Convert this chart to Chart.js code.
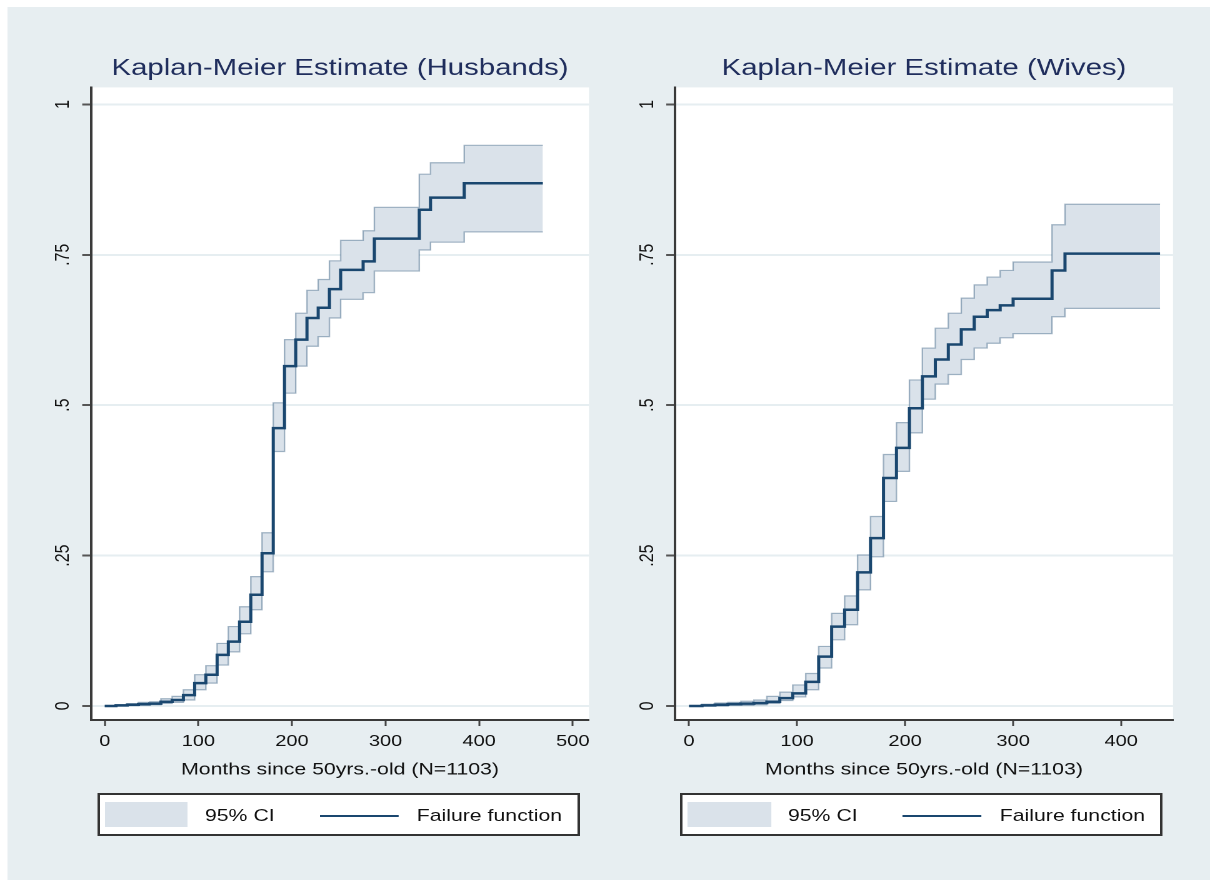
<!DOCTYPE html>
<html>
<head>
<meta charset="utf-8">
<script src="https://cdn.jsdelivr.net/npm/chart.js@4.4.1/dist/chart.umd.min.js"></script>
<style>
  html, body { margin: 0; padding: 0; background: #fff; }
  /* the reference picture is stretched sideways, so the whole figure is too */
  #stretch { position: absolute; left: 0; top: 0; width: 973.6px; height: 886px; transform: scaleX(1.25); transform-origin: 0 0; }
  #panel { position: absolute; left: 5.6px; top: 7px; width: 962.4px; height: 873px; background: #e7eef1; }
  canvas { position: absolute; top: 0; }
  .legend { position: absolute; top: 793px; width: 386.4px; height: 43px; box-sizing: border-box;
            border: 2px solid #333; background: #fff; font-family: 'Liberation Sans', Arial, Helvetica, sans-serif;
            font-size: 17px; color: #111; }
  .legend .sw { position: absolute; left: 4.4px; top: 7px; width: 66.4px; height: 25px; background: #dae2ea; }
  .legend .t1 { position: absolute; left: 84.4px; top: 0; line-height: 42px; }
  .legend .ln { position: absolute; left: 176.4px; top: 20.3px; width: 62.6px; height: 2px; background: #1a476f; }
  .legend .t2 { position: absolute; left: 253.8px; top: 0; line-height: 42px; }
</style>
</head>
<body>
<div id="stretch">
  <div id="panel"></div>
  <canvas id="husbands" width="500" height="800" style="left:0px"></canvas>
  <canvas id="wives" width="483" height="800" style="left:490px"></canvas>
  <div class="legend" style="left:77.6px"><div class="sw"></div><span class="t1">95% CI</span><div class="ln"></div><span class="t2">Failure function</span></div>
  <div class="legend" style="left:544px"><div class="sw"></div><span class="t1">95% CI</span><div class="ln"></div><span class="t2">Failure function</span></div>
</div>
<script>
const FONT = "'Liberation Sans', Arial, Helvetica, sans-serif";

// husbands: months, failure estimate, lower and upper 95% CI
const monthsH = [0, 12, 24, 36, 48, 60, 72, 84, 96, 108, 120, 132, 144, 156, 168, 180, 192, 204, 216, 228, 240, 252, 276, 288, 336, 348, 384, 468];
const failH   = [0, 0.001, 0.002, 0.003, 0.004, 0.007, 0.010, 0.018, 0.038, 0.052, 0.085, 0.107, 0.140, 0.185, 0.254, 0.462, 0.565, 0.609, 0.645, 0.662, 0.693, 0.725, 0.739, 0.777, 0.825, 0.845, 0.869, 0.869];
const loH     = [0, 0, 0.0005, 0.001, 0.002, 0.004, 0.006, 0.010, 0.027, 0.038, 0.068, 0.090, 0.120, 0.160, 0.223, 0.423, 0.520, 0.565, 0.598, 0.614, 0.645, 0.676, 0.687, 0.723, 0.758, 0.771, 0.788, 0.788];
const hiH     = [0, 0.002, 0.004, 0.006, 0.007, 0.012, 0.016, 0.027, 0.052, 0.067, 0.104, 0.132, 0.165, 0.215, 0.288, 0.504, 0.609, 0.653, 0.691, 0.709, 0.740, 0.774, 0.790, 0.829, 0.884, 0.903, 0.932, 0.932];

// wives
const monthsW = [0, 12, 24, 36, 48, 60, 72, 84, 96, 108, 120, 132, 144, 156, 168, 180, 192, 204, 216, 228, 240, 252, 264, 276, 288, 300, 336, 348, 436];
const failW   = [0, 0.001, 0.002, 0.003, 0.004, 0.005, 0.007, 0.013, 0.021, 0.040, 0.082, 0.132, 0.160, 0.222, 0.279, 0.379, 0.429, 0.495, 0.548, 0.576, 0.601, 0.626, 0.647, 0.658, 0.666, 0.677, 0.724, 0.752, 0.752];
const loW     = [0, 0, 0, 0.001, 0.001, 0.002, 0.004, 0.009, 0.015, 0.027, 0.063, 0.110, 0.135, 0.193, 0.248, 0.340, 0.390, 0.454, 0.510, 0.535, 0.551, 0.576, 0.595, 0.603, 0.612, 0.619, 0.647, 0.661, 0.661];
const hiW     = [0, 0.003, 0.005, 0.006, 0.008, 0.010, 0.016, 0.023, 0.035, 0.054, 0.099, 0.154, 0.183, 0.251, 0.315, 0.418, 0.471, 0.542, 0.595, 0.628, 0.653, 0.678, 0.700, 0.713, 0.724, 0.738, 0.800, 0.834, 0.834];

const xTicksH = [0, 100, 200, 300, 400, 500];
const xTicksW = [0, 100, 200, 300, 400];
const yTicks = [0, 0.25, 0.5, 0.75, 1];
const yTickLabels = ['0', '.25', '.5', '.75', '1'];

function pts(xs, ys) {
  return xs.map((x, i) => ({ x: x, y: ys[i] }));
}

// white plot region + rotated y tick labels (Stata style)
const stataBits = {
  id: 'stataBits',
  beforeDraw(chart) {
    const a = chart.chartArea, ctx = chart.ctx;
    ctx.save();
    ctx.fillStyle = '#fff';
    ctx.fillRect(a.left, a.top, a.right - a.left, a.bottom - a.top);
    ctx.restore();
  },
  afterDraw(chart) {
    const ctx = chart.ctx, ys = chart.scales.y;
    ctx.save();
    ctx.font = '16px ' + FONT;
    ctx.fillStyle = '#111';
    ctx.textAlign = 'center';
    ctx.textBaseline = 'middle';
    yTicks.forEach((v, i) => {
      ctx.save();
      ctx.translate(chart.chartArea.left - 22, ys.getPixelForValue(v));
      ctx.rotate(-Math.PI / 2);
      ctx.fillText(yTickLabels[i], 0, 0);
      ctx.restore();
    });
    ctx.restore();
  }
};

function makeChart(id, title, t, f, lo, hi, xTicks, xMin, xMax, axisW, padRight) {
  const bandEdge = 'rgba(26,71,111,0.38)';
  return new Chart(document.getElementById(id), {
    type: 'line',
    data: {
      datasets: [
        { label: 'Failure function', data: pts(t, f), borderColor: '#1a476f', borderWidth: 2.5,
          stepped: true, pointRadius: 0, fill: false },
        { label: 'lower', data: pts(t, lo), borderColor: bandEdge, borderWidth: 1.2,
          stepped: true, pointRadius: 0, fill: false },
        { label: '95% CI', data: pts(t, hi), borderColor: bandEdge, borderWidth: 1.2,
          stepped: true, pointRadius: 0, fill: 1, backgroundColor: '#dae2ea' }
      ]
    },
    options: {
      responsive: false,
      animation: false,
      devicePixelRatio: 2,
      events: [],
      layout: { padding: { left: 0, right: padRight, top: 0, bottom: 0 } },
      plugins: {
        legend: { display: false },
        tooltip: { enabled: false },
        title: {
          display: true,
          text: title,
          fullSize: false,
          color: '#1f2d5c',
          font: { family: FONT, size: 23.5, weight: 'normal' },
          padding: { top: 54.6, bottom: 4.6 }
        }
      },
      scales: {
        x: {
          type: 'linear',
          min: xMin,
          max: xMax,
          afterBuildTicks: s => { s.ticks = xTicks.map(v => ({ value: v })); },
          afterFit: s => { s.height = 80; },
          grid: { drawOnChartArea: false, drawTicks: true, tickLength: 6, tickColor: '#444', tickWidth: 1.5 },
          border: { display: true, color: '#3a3a3a', width: 2 },
          ticks: { color: '#111', font: { family: FONT, size: 16 }, padding: 6, maxRotation: 0, autoSkip: false },
          title: { display: true, text: 'Months since 50yrs.-old (N=1103)', color: '#111',
                   font: { family: FONT, size: 17 }, padding: { top: 0, bottom: 19.8 } }
        },
        y: {
          type: 'linear',
          min: -0.0233,
          max: 1.0283,
          afterBuildTicks: s => { s.ticks = yTicks.map(v => ({ value: v })); },
          afterFit: s => { s.width = axisW; },
          grid: { color: '#e6eef1', lineWidth: 2, drawTicks: true, tickLength: 7, tickColor: '#555', tickWidth: 2 },
          border: { display: true, color: '#3a3a3a', width: 2 },
          ticks: { display: false }
        }
      }
    },
    plugins: [stataBits]
  });
}

makeChart('husbands', 'Kaplan-Meier Estimate (Husbands)', monthsH, failH, loH, hiH, xTicksH, -14.7, 517.3, 72.8, 28.8);
makeChart('wives', 'Kaplan-Meier Estimate (Wives)', monthsW, failW, loW, hiW, xTicksW, -13, 448, 50, 34.6);
</script>
</body>
</html>
